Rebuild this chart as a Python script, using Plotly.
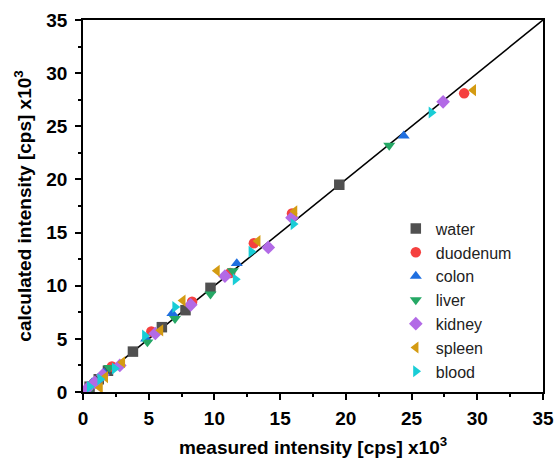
import plotly.graph_objects as go

# measured / calculated intensity, cps x10^3
water_x = [0.5, 1.2, 1.9, 3.8, 6.0, 7.8, 9.7, 19.5]
water_y = [0.5, 1.2, 2.0, 3.8, 6.1, 7.7, 9.8, 19.5]

duodenum_x = [0.8, 2.2, 5.2, 8.3, 11.2, 13.0, 15.9, 29.0]
duodenum_y = [0.8, 2.4, 5.7, 8.5, 11.2, 14.0, 16.8, 28.1]

colon_x = [0.7, 1.6, 4.8, 6.8, 11.7, 24.4]
colon_y = [0.9, 1.8, 5.0, 7.4, 12.1, 24.1]

liver_x = [0.6, 2.0, 4.9, 7.0, 9.7, 11.4, 23.3]
liver_y = [0.4, 2.3, 4.7, 6.9, 9.2, 11.4, 23.2]

kidney_x = [0.3, 0.9, 1.5, 2.8, 5.5, 8.2, 10.8, 14.1, 15.9, 27.4]
kidney_y = [0.3, 0.9, 1.6, 2.5, 5.5, 8.2, 10.9, 13.6, 16.4, 27.3]

spleen_x = [1.3, 1.7, 3.0, 5.9, 7.6, 10.2, 13.3, 16.1, 29.7]
spleen_y = [0.4, 1.4, 2.8, 5.8, 8.6, 11.4, 14.2, 17.0, 28.4]

blood_x = [0.5, 1.3, 2.4, 4.7, 7.0, 11.6, 12.8, 16.0, 26.5]
blood_y = [0.5, 1.2, 2.2, 5.3, 8.0, 10.6, 13.2, 15.8, 26.3]

ideal = [0, 35]

series = [
    ("water", water_x, water_y, "square", "#505050"),
    ("duodenum", duodenum_x, duodenum_y, "circle", "#f5403f"),
    ("colon", colon_x, colon_y, "triangle-up", "#1f6fe0"),
    ("liver", liver_x, liver_y, "triangle-down", "#25a865"),
    ("kidney", kidney_x, kidney_y, "diamond", "#b26ae6"),
    ("spleen", spleen_x, spleen_y, "triangle-left", "#d49b12"),
    ("blood", blood_x, blood_y, "triangle-right", "#19cdd6"),
]

FONT = "Arial, Liberation Sans"

fig = go.Figure()

fig.add_trace(go.Scatter(
    x=ideal, y=ideal, mode="lines",
    line=dict(color="black", width=1.6),
    showlegend=False, hoverinfo="skip"
))

for name, xs, ys, sym, col in series:
    fig.add_trace(go.Scatter(
        x=xs, y=ys, mode="markers", name=name,
        marker=dict(symbol=sym, color=col, size=10.5, line=dict(width=0))
    ))

axis_common = dict(
    range=[0, 35],
    tick0=0, dtick=5,
    ticks="outside", ticklen=6, tickwidth=1.5, tickcolor="black",
    minor=dict(dtick=2.5, ticks="outside", ticklen=3.5, tickwidth=1.5, tickcolor="black"),
    showline=True, linecolor="black", linewidth=1.5, mirror=True,
    showgrid=False, zeroline=False, automargin=False,
    tickfont=dict(family=FONT, size=19, color="black", weight="bold"),
)

fig.update_xaxes(
    title=dict(text="measured intensity [cps] x10<sup>3</sup>", standoff=35,
               font=dict(family=FONT, size=19, color="black", weight="bold")),
    ticklabelstandoff=2,
    **axis_common
)
fig.update_yaxes(
    title=dict(text="calculated intensity [cps] x10<sup>3</sup>", standoff=10,
               font=dict(family=FONT, size=19, color="black", weight="bold")),
    ticklabelstandoff=4,
    **axis_common
)

fig.update_layout(
    width=554, height=458,
    margin=dict(l=83, r=11, t=20, b=66),
    plot_bgcolor="white", paper_bgcolor="white",
    legend=dict(
        x=0.68, y=0.485, xanchor="left", yanchor="top",
        font=dict(family=FONT, size=16, color="#222"),
        bgcolor="rgba(0,0,0,0)", itemwidth=30, tracegroupgap=0,
    ),
)

# drop the default page margin so the figure sits at the window's corner
fig.write_html("out.html", config={"displayModeBar": False},
               post_script="document.body.style.margin = '0';")
